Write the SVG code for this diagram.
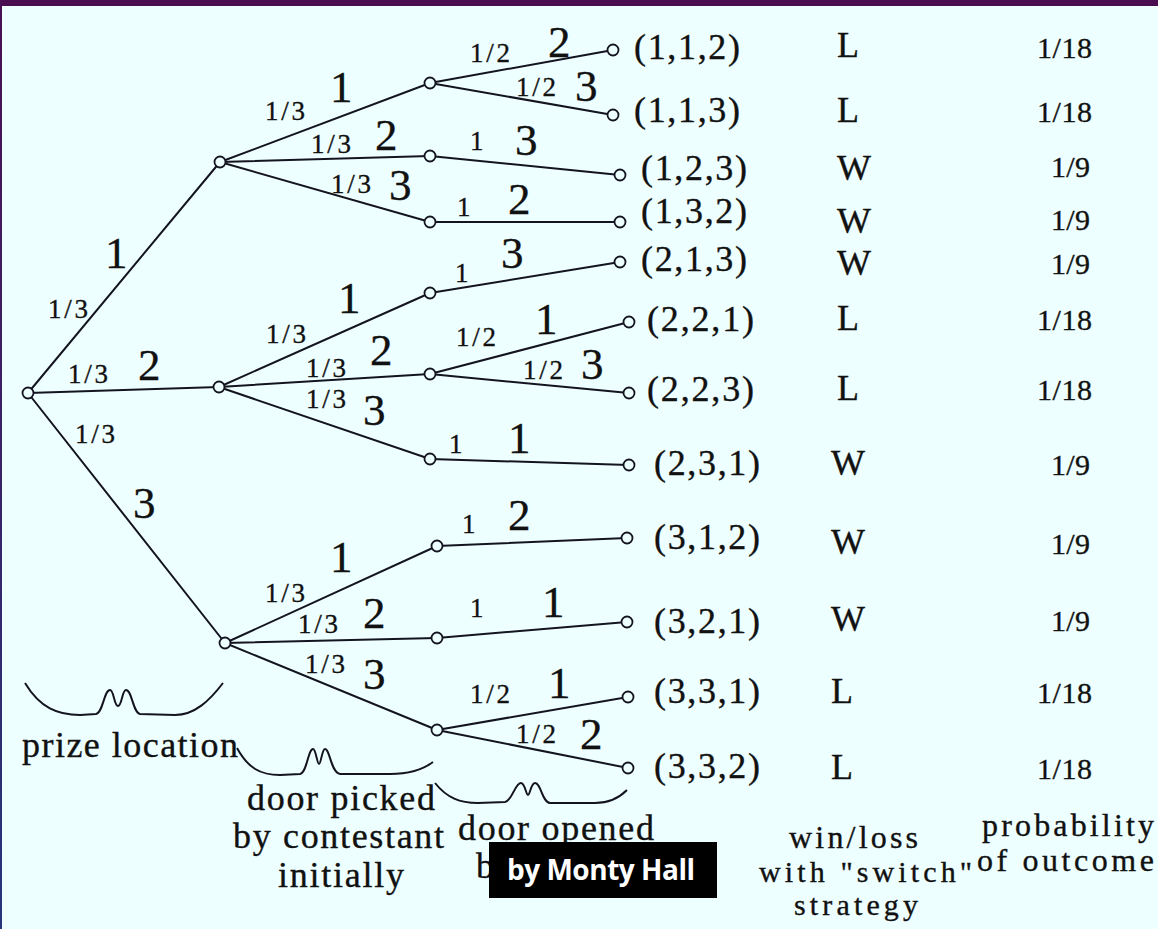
<svg xmlns="http://www.w3.org/2000/svg" width="1158" height="929" viewBox="0 0 1158 929">
  <defs>
    <linearGradient id="edgeFill" x1="0" y1="0" x2="0" y2="1">
      <stop offset="0" stop-color="#4a0f55"/>
      <stop offset="1" stop-color="#27357a"/>
    </linearGradient>
    <style>
      .bg { fill: #eeffff; }
      .edge { stroke: #141420; stroke-width: 2; fill: none; stroke-linecap: round; }
      .brace { stroke: #141420; stroke-width: 2; fill: none; }
      .dot { fill: #eeffff; stroke: #141420; stroke-width: 1.8; }
      text { font-family: "Liberation Serif", "Times New Roman", serif; fill: #111; stroke: #111; stroke-width: 0.35; }
      .p { font-size: 27px; }
      .d { font-size: 45px; }
      .tuple { font-size: 36px; }
      .wl { font-size: 36px; }
      .prob { font-size: 30px; }
      .cap { font-size: 36px; }
      .cap2 { font-size: 32px; }
      .cap3 { font-size: 30px; }
      .tag { font-family: "Open Sans", "Liberation Sans", sans-serif; font-weight: 700; font-size: 28px; fill: #fff; stroke: none; }
    </style>
    <clipPath id="boxLeft">
      <rect x="440" y="840" width="49" height="60"/>
    </clipPath>
  </defs>

  <!-- backdrop and frame -->
  <rect class="bg" x="0" y="0" width="1158" height="929"/>
  <rect x="0" y="0" width="1158" height="6" fill="#4a0d50"/>
  <rect x="0" y="0" width="2" height="929" fill="url(#edgeFill)"/>

  <!-- tree branches -->
  <g id="connectors">
    <line class="edge" x1="28" y1="393" x2="220" y2="162"/>
    <line class="edge" x1="28" y1="393" x2="219" y2="387"/>
    <line class="edge" x1="28" y1="393" x2="225" y2="643"/>

    <line class="edge" x1="220" y1="162" x2="430" y2="83"/>
    <line class="edge" x1="220" y1="162" x2="430" y2="156"/>
    <line class="edge" x1="220" y1="162" x2="430" y2="222"/>
    <line class="edge" x1="219" y1="387" x2="430" y2="293"/>
    <line class="edge" x1="219" y1="387" x2="430" y2="374"/>
    <line class="edge" x1="219" y1="387" x2="430" y2="459"/>
    <line class="edge" x1="225" y1="643" x2="437" y2="546"/>
    <line class="edge" x1="225" y1="643" x2="437" y2="638"/>
    <line class="edge" x1="225" y1="643" x2="437" y2="730"/>

    <line class="edge" x1="430" y1="83" x2="613" y2="50"/>
    <line class="edge" x1="430" y1="83" x2="613" y2="115"/>
    <line class="edge" x1="430" y1="156" x2="620" y2="175"/>
    <line class="edge" x1="430" y1="222" x2="620" y2="222"/>
    <line class="edge" x1="430" y1="293" x2="620" y2="262"/>
    <line class="edge" x1="430" y1="374" x2="629" y2="322"/>
    <line class="edge" x1="430" y1="374" x2="629" y2="393"/>
    <line class="edge" x1="430" y1="459" x2="629" y2="465"/>
    <line class="edge" x1="437" y1="546" x2="627" y2="538"/>
    <line class="edge" x1="437" y1="638" x2="627" y2="622"/>
    <line class="edge" x1="437" y1="730" x2="628" y2="697"/>
    <line class="edge" x1="437" y1="730" x2="628" y2="768"/>
  </g>

  <!-- branch labels: probability and door number -->
  <g id="edge-labels">
    <text class="p" x="48" y="318" textLength="40">1/3</text>
    <text class="d" x="105" y="268">1</text>
    <text class="p" x="68" y="383" textLength="40">1/3</text>
    <text class="d" x="138" y="380">2</text>
    <text class="p" x="75" y="443" textLength="40">1/3</text>
    <text class="d" x="133" y="518">3</text>

    <text class="p" x="265" y="120" textLength="40">1/3</text>
    <text class="d" x="330" y="102">1</text>
    <text class="p" x="311" y="153" textLength="40">1/3</text>
    <text class="d" x="375" y="150">2</text>
    <text class="p" x="331" y="193" textLength="40">1/3</text>
    <text class="d" x="389" y="200">3</text>

    <text class="p" x="266" y="343" textLength="40">1/3</text>
    <text class="d" x="338" y="313">1</text>
    <text class="p" x="306" y="377" textLength="40">1/3</text>
    <text class="d" x="370" y="365">2</text>
    <text class="p" x="306" y="408" textLength="40">1/3</text>
    <text class="d" x="363" y="425">3</text>

    <text class="p" x="265" y="602" textLength="40">1/3</text>
    <text class="d" x="330" y="572">1</text>
    <text class="p" x="298" y="633" textLength="40">1/3</text>
    <text class="d" x="363" y="628">2</text>
    <text class="p" x="305" y="673" textLength="40">1/3</text>
    <text class="d" x="363" y="689">3</text>

    <text class="p" x="470" y="62" textLength="40">1/2</text>
    <text class="d" x="548" y="57">2</text>
    <text class="p" x="516" y="96" textLength="40">1/2</text>
    <text class="d" x="575" y="101">3</text>
    <text class="p" x="470" y="150">1</text>
    <text class="d" x="515" y="155">3</text>
    <text class="p" x="457" y="216">1</text>
    <text class="d" x="508" y="214">2</text>
    <text class="p" x="455" y="282">1</text>
    <text class="d" x="501" y="268">3</text>
    <text class="p" x="456" y="346" textLength="40">1/2</text>
    <text class="d" x="535" y="334">1</text>
    <text class="p" x="523" y="379" textLength="40">1/2</text>
    <text class="d" x="581" y="379">3</text>
    <text class="p" x="449" y="453">1</text>
    <text class="d" x="508" y="453">1</text>
    <text class="p" x="462" y="533">1</text>
    <text class="d" x="508" y="530">2</text>
    <text class="p" x="470" y="617">1</text>
    <text class="d" x="542" y="617">1</text>
    <text class="p" x="470" y="703" textLength="40">1/2</text>
    <text class="d" x="548" y="698">1</text>
    <text class="p" x="516" y="743" textLength="40">1/2</text>
    <text class="d" x="580" y="749">2</text>
  </g>

  <!-- root and first two levels -->
  <g id="root"><circle class="dot" cx="28" cy="393" r="5.5"/></g>
  <g id="prize-1"><circle class="dot" cx="220" cy="162" r="5.5"/></g>
  <g id="prize-2"><circle class="dot" cx="219" cy="387" r="5.5"/></g>
  <g id="prize-3"><circle class="dot" cx="225" cy="643" r="5.5"/></g>

  <g id="pick-1-1"><circle class="dot" cx="430" cy="83" r="5.5"/></g>
  <g id="pick-1-2"><circle class="dot" cx="430" cy="156" r="5.5"/></g>
  <g id="pick-1-3"><circle class="dot" cx="430" cy="222" r="5.5"/></g>
  <g id="pick-2-1"><circle class="dot" cx="430" cy="293" r="5.5"/></g>
  <g id="pick-2-2"><circle class="dot" cx="430" cy="374" r="5.5"/></g>
  <g id="pick-2-3"><circle class="dot" cx="430" cy="459" r="5.5"/></g>
  <g id="pick-3-1"><circle class="dot" cx="437" cy="546" r="5.5"/></g>
  <g id="pick-3-2"><circle class="dot" cx="437" cy="638" r="5.5"/></g>
  <g id="pick-3-3"><circle class="dot" cx="437" cy="730" r="5.5"/></g>

  <!-- outcomes: leaf, result with switching, probability -->
  <g id="leaf-112"><circle class="dot" cx="613" cy="50" r="5.5"/><text class="tuple" x="634" y="59" textLength="106">(1,1,2)</text></g>
  <g id="leaf-113"><circle class="dot" cx="613" cy="115" r="5.5"/><text class="tuple" x="634" y="122" textLength="106">(1,1,3)</text></g>
  <g id="leaf-123"><circle class="dot" cx="620" cy="175" r="5.5"/><text class="tuple" x="641" y="180" textLength="106">(1,2,3)</text></g>
  <g id="leaf-132"><circle class="dot" cx="620" cy="222" r="5.5"/><text class="tuple" x="641" y="223" textLength="106">(1,3,2)</text></g>
  <g id="leaf-213"><circle class="dot" cx="620" cy="262" r="5.5"/><text class="tuple" x="641" y="271" textLength="106">(2,1,3)</text></g>
  <g id="leaf-221"><circle class="dot" cx="629" cy="322" r="5.5"/><text class="tuple" x="647" y="331" textLength="107">(2,2,1)</text></g>
  <g id="leaf-223"><circle class="dot" cx="629" cy="393" r="5.5"/><text class="tuple" x="647" y="401" textLength="107">(2,2,3)</text></g>
  <g id="leaf-231"><circle class="dot" cx="629" cy="465" r="5.5"/><text class="tuple" x="654" y="475" textLength="106">(2,3,1)</text></g>
  <g id="leaf-312"><circle class="dot" cx="627" cy="538" r="5.5"/><text class="tuple" x="654" y="549" textLength="106">(3,1,2)</text></g>
  <g id="leaf-321"><circle class="dot" cx="627" cy="622" r="5.5"/><text class="tuple" x="654" y="633" textLength="106">(3,2,1)</text></g>
  <g id="leaf-331"><circle class="dot" cx="628" cy="697" r="5.5"/><text class="tuple" x="654" y="703" textLength="106">(3,3,1)</text></g>
  <g id="leaf-332"><circle class="dot" cx="628" cy="768" r="5.5"/><text class="tuple" x="654" y="778" textLength="106">(3,3,2)</text></g>

  <g id="switch-result">
    <text class="wl" x="837" y="57" textLength="26">L</text>
    <text class="wl" x="837" y="122" textLength="26">L</text>
    <text class="wl" x="837" y="180" textLength="37">W</text>
    <text class="wl" x="837" y="233" textLength="37">W</text>
    <text class="wl" x="837" y="275" textLength="37">W</text>
    <text class="wl" x="837" y="330" textLength="26">L</text>
    <text class="wl" x="837" y="400" textLength="26">L</text>
    <text class="wl" x="831" y="475" textLength="37">W</text>
    <text class="wl" x="831" y="554" textLength="37">W</text>
    <text class="wl" x="831" y="631" textLength="37">W</text>
    <text class="wl" x="831" y="703" textLength="26">L</text>
    <text class="wl" x="831" y="779" textLength="26">L</text>
  </g>

  <g id="outcome-probability">
    <text class="prob" x="1037" y="58" textLength="55">1/18</text>
    <text class="prob" x="1037" y="122" textLength="55">1/18</text>
    <text class="prob" x="1051" y="177" textLength="39">1/9</text>
    <text class="prob" x="1051" y="230" textLength="39">1/9</text>
    <text class="prob" x="1051" y="274" textLength="39">1/9</text>
    <text class="prob" x="1037" y="330" textLength="55">1/18</text>
    <text class="prob" x="1037" y="400" textLength="55">1/18</text>
    <text class="prob" x="1051" y="475" textLength="39">1/9</text>
    <text class="prob" x="1051" y="554" textLength="39">1/9</text>
    <text class="prob" x="1051" y="631" textLength="39">1/9</text>
    <text class="prob" x="1037" y="703" textLength="55">1/18</text>
    <text class="prob" x="1037" y="779" textLength="55">1/18</text>
  </g>

  <!-- level captions with braces -->
  <g id="caption-prize">
    <path class="brace" d="M25,683 C40,708 58,715 80,715 L96,714 C103,713 104,690 110,690 C114,690 114,706 118,706 C122,706 122,690 126,690 C132,690 133,713 140,714 L175,715 C195,715 210,700 223,683"/>
    <text class="cap" x="22" y="757" textLength="216">prize location</text>
  </g>
  <g id="caption-pick">
    <path class="brace" d="M237,748 C248,768 260,775 280,775 L300,774 C307,773 308,749 313,749 C316,749 317,764 319,764 C321,764 322,749 325,749 C330,749 331,773 340,774 L390,774 C410,774 425,768 433,762"/>
    <text class="cap" x="247" y="810" textLength="188">door picked</text>
    <text class="cap" x="233" y="848" textLength="211">by contestant</text>
    <text class="cap" x="278" y="887" textLength="126">initially</text>
  </g>
  <g id="caption-open">
    <path class="brace" d="M435,783 C447,798 460,803 478,803 L505,802 C512,801 515,783 521,783 C525,783 526,795 528,795 C530,795 531,783 535,783 C541,783 542,802 550,803 L595,803 C610,803 620,797 627,790"/>
    <text class="cap" x="458" y="840" textLength="196">door opened</text>
    <!-- second caption line, mostly under the black label -->
    <text class="cap" x="476" y="878" textLength="238" clip-path="url(#boxLeft)">by Monty Hall</text>
    <rect x="489" y="842" width="228" height="56" fill="#000"/>
    <text class="tag" x="507" y="880" textLength="188">by Monty Hall</text>
  </g>
  <g id="caption-result">
    <text class="cap2" x="789" y="848" textLength="129">win/loss</text>
    <text class="cap3" x="759" y="882" textLength="213">with "switch"</text>
    <text class="cap3" x="794" y="915" textLength="124">strategy</text>
  </g>
  <g id="caption-probability">
    <text class="cap2" x="982" y="836" textLength="172">probability</text>
    <text class="cap2" x="977" y="871" textLength="177">of outcome</text>
  </g>
</svg>
